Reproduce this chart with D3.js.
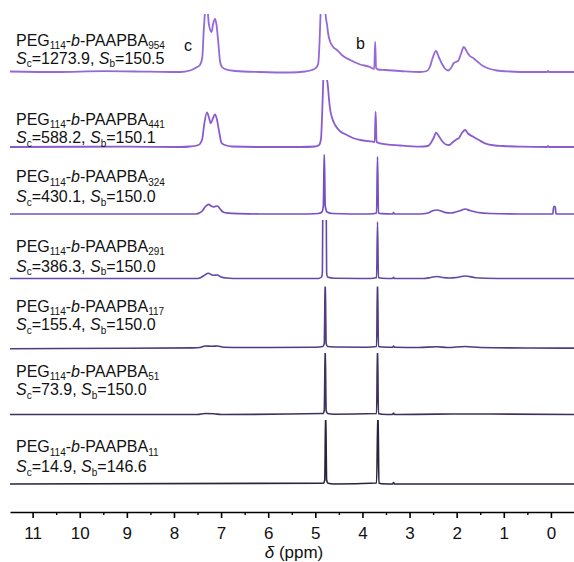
<!DOCTYPE html>
<html><head><meta charset="utf-8">
<script src="https://cdn.jsdelivr.net/npm/d3@7"></script>
<style>body{margin:0;background:#fff}svg{display:block}</style>
</head><body>
<svg id="chart" width="574" height="562"></svg>
<script>
// ---------------- data ----------------
const tickValues = [11, 10, 9, 8, 7, 6, 5, 4, 3, 2, 1, 0];
const minorTickValues = [10.5, 9.5, 8.5, 7.5, 6.5, 5.5, 4.5, 3.5, 2.5, 1.5, 0.5];
const dpValues = ["954", "441", "324", "291", "117", "51", "11"];
const scValues = ["1273.9", "588.2", "430.1", "386.3", "155.4", "73.9", "14.9"];
const sbValues = ["150.5", "150.1", "150.0", "150.0", "150.0", "150.0", "146.6"];
const peakLabels = ["c", "b"];
const peakLabelPpm = [7.70, 4.04];

// spectra: [ppm, intensity (a.u.)]
const spec954 = [[11.48,0.5],[10.5,0],[9.5,0.8],[8.5,0.3],[7.87,0],[7.66,1.5],[7.55,4],[7.45,7],[7.40,14],[7.37,40],[7.34,62],[7.32,75],[7.29,65],[7.26,48],[7.20,40],[7.17,48],[7.13,53],[7.10,48],[7.06,30],[7.02,10],[6.98,5],[6.89,2.5],[6.70,1],[6.17,0],[5.54,-0.5],[5.22,0.5],[5.07,2],[4.99,4],[4.94,8],[4.91,30],[4.88,70],[4.84,90],[4.80,70],[4.78,56],[4.75,47],[4.73,39],[4.69,31],[4.62,25],[4.54,22],[4.41,16],[4.26,12],[4.05,7.5],[3.84,5],[3.78,3.5],[3.75,3],[3.73,30.3],[3.71,4],[3.67,2.5],[3.52,2],[3.20,1],[2.78,0],[2.63,1],[2.57,5],[2.51,14],[2.44,21],[2.38,15],[2.31,8],[2.25,3.5],[2.18,1.5],[2.12,4],[2.06,9],[2.02,10],[1.97,11],[1.91,18],[1.85,25],[1.78,20],[1.72,16],[1.65,14],[1.55,10],[1.44,6],[1.29,3],[1.15,1.5],[0.87,0.5],[0.45,0],[0.08,0],[0.06,1],[0.04,0],[-0.49,0]];
const spec441 = [[11.48,0],[9.0,0.3],[7.87,0],[7.66,0.5],[7.51,1.5],[7.45,3],[7.40,8],[7.36,22],[7.30,34.7],[7.26,30],[7.22,23.7],[7.17,29],[7.13,32.7],[7.09,28],[7.04,15],[6.99,4],[6.92,2],[6.77,0.5],[6.17,0],[5.32,0],[5.01,0.5],[4.92,2],[4.88,8],[4.85,40],[4.82,80],[4.79,90],[4.76,70],[4.74,64],[4.71,48],[4.69,39],[4.65,30],[4.58,22],[4.48,16],[4.33,12],[4.20,9],[4.05,7],[3.78,5.3],[3.74,5],[3.72,35.3],[3.70,5],[3.63,3.7],[3.20,1.5],[2.78,0.3],[2.61,1],[2.55,4],[2.48,10],[2.44,14.3],[2.38,11],[2.31,6],[2.23,2.5],[2.16,2],[2.08,5],[2.00,7.7],[1.95,9],[1.89,14],[1.82,17],[1.76,13.5],[1.65,10.3],[1.53,7],[1.40,3.7],[1.19,1.5],[1.02,1],[0.65,0.3],[0.08,0],[0.06,1],[0.04,0],[-0.49,0]];
const spec324 = [[11.48,0],[7.53,0],[7.49,0.5],[7.40,3],[7.34,7],[7.27,9.7],[7.21,8],[7.16,7],[7.13,7.5],[7.08,8],[7.02,5],[6.96,2],[6.85,0.8],[6.60,0.3],[6.17,0],[5.32,0],[4.94,0.5],[4.86,2],[4.83,8],[4.81,62],[4.79,8],[4.75,2],[4.64,0.5],[3.84,0],[3.70,1],[3.68,57.3],[3.66,1],[3.59,0.3],[3.36,0],[3.34,1.5],[3.32,0],[2.78,0],[2.61,1],[2.52,3],[2.42,4],[2.33,3],[2.23,1.3],[2.12,1],[2.02,2],[1.91,3.5],[1.82,5],[1.72,3.5],[1.55,1.5],[1.29,0.5],[0.66,0],[-0.04,0],[-0.06,7.5],[-0.09,7.5],[-0.11,0],[-0.49,0]];
const spec291 = [[11.48,0],[7.49,0],[7.45,0.5],[7.36,3],[7.27,5.2],[7.19,3.5],[7.15,3.3],[7.08,3.5],[7.00,1.5],[6.89,0.5],[6.60,0],[4.94,0],[4.87,1.5],[4.85,6],[4.84,80],[4.80,110],[4.77,80],[4.76,6],[4.74,1.5],[4.60,0.3],[3.84,0],[3.70,1],[3.68,56.8],[3.66,1],[3.59,0.3],[3.36,0],[3.34,1.2],[3.32,0],[2.70,0],[2.55,1],[2.42,2],[2.30,1],[2.15,0.5],[2.00,1],[1.82,2.5],[1.60,0.8],[1.40,0.3],[0.80,0],[-0.49,0]];
const spec117 = [[11.48,-1.2],[9.0,-0.8],[7.60,-0.4],[7.45,0],[7.34,1.5],[7.20,1.2],[7.08,1.5],[6.95,0.3],[6.50,0],[5.00,0.3],[4.84,1],[4.81,4],[4.79,70],[4.77,4],[4.74,1],[4.60,0.5],[3.90,0.3],[3.70,1],[3.68,70],[3.66,1],[3.59,0.5],[3.36,0.3],[3.34,1.5],[3.32,0.3],[2.80,0],[2.42,0.8],[2.20,0],[1.82,1],[1.50,0],[0.50,-0.5],[-0.49,-0.6]];
const spec51 = [[11.48,0],[7.50,0],[7.34,1],[7.15,0.8],[7.00,0],[4.84,1],[4.81,4],[4.79,70],[4.77,4],[4.74,1],[4.60,0.3],[3.70,1],[3.68,70],[3.66,1],[3.59,0.3],[3.36,0],[3.34,1.5],[3.32,0],[2.42,0.4],[1.82,0.5],[-0.49,0]];
const spec11 = [[11.48,0],[4.83,0.8],[4.80,4],[4.78,75],[4.76,4],[4.73,0.8],[4.60,0],[3.70,1],[3.67,75],[3.65,1],[3.59,0.3],[3.36,0],[3.34,1.5],[3.32,0],[-0.49,0]];
const spectra = [spec954, spec441, spec324, spec291, spec117, spec51, spec11];

// ---------------- layout / style ----------------
const W = 574, H = 562;
const FONT = "Arial, 'Liberation Sans', Helvetica, sans-serif";
const baselines = [72, 147, 214, 278.5, 347.5, 414.5, 484];
const clipTops = [14, 80, 154.5, 220, 286.5, 353, 420];
const labelY1 = [45.5, 124.5, 182, 251.5, 311.5, 376.5, 452];
const labelY2 = [63.5, 143, 202, 271.5, 330, 395, 472];
const colors = ["#9568d8", "#8a5ccf", "#7650c0", "#6448a6", "#4f3b7e", "#3e305f", "#2b2440"];
const widths = [1.8, 1.8, 1.7, 1.6, 1.6, 1.6, 1.6];
const SUB = 10, SUBDY = 3.5;

const svg = d3.select("#chart");
const x = d3.scaleLinear().domain([11.48, -0.49]).range([10, 574]);

const line = d3.line().curve(d3.curveMonotoneX);

spectra.forEach((spec, i) => {
  const y = d3.scaleLinear().domain([0, 60]).range([baselines[i], baselines[i] - 60]);
  const cid = "clip" + i;
  svg.append("clipPath").attr("id", cid)
    .append("rect").attr("x", 0).attr("y", clipTops[i]).attr("width", W).attr("height", baselines[i] + 20 - clipTops[i]);
  svg.append("path")
    .attr("clip-path", `url(#${cid})`)
    .attr("d", line.x(d => x(d[0])).y(d => y(d[1]))(spec))
    .attr("fill", "none")
    .attr("stroke", colors[i])
    .attr("stroke-width", widths[i])
    .attr("stroke-linejoin", "round");

  const t1 = svg.append("text").attr("x", 16).attr("y", labelY1[i])
    .attr("font-family", FONT).attr("font-size", 16).attr("fill", "#111");
  t1.append("tspan").text("PEG");
  t1.append("tspan").attr("font-size", SUB).attr("dy", SUBDY).text("114");
  t1.append("tspan").attr("dy", -SUBDY).text("-");
  t1.append("tspan").attr("font-style", "italic").text("b");
  t1.append("tspan").text("-PAAPBA");
  t1.append("tspan").attr("font-size", SUB).attr("dy", SUBDY).text(dpValues[i]);

  const t2 = svg.append("text").attr("x", 16).attr("y", labelY2[i])
    .attr("font-family", FONT).attr("font-size", 16).attr("fill", "#111");
  t2.append("tspan").attr("font-style", "italic").text("S");
  t2.append("tspan").attr("font-size", SUB).attr("dy", SUBDY).text("c");
  t2.append("tspan").attr("dy", -SUBDY).text("=" + scValues[i] + ", ");
  t2.append("tspan").attr("font-style", "italic").text("S");
  t2.append("tspan").attr("font-size", SUB).attr("dy", SUBDY).text("b");
  t2.append("tspan").attr("dy", -SUBDY).text("=" + sbValues[i]);
});

// peak labels
const peakLabelY = [51, 48.5];
peakLabels.forEach((t, i) => {
  svg.append("text").attr("x", x(peakLabelPpm[i])).attr("y", peakLabelY[i])
    .attr("text-anchor", "middle").attr("font-family", FONT).attr("font-size", 16)
    .attr("fill", "#111").text(t);
});

// axis
const axisY = 512;
const gAxis = svg.append("g").attr("transform", `translate(0,${axisY})`)
  .call(d3.axisBottom(x).tickValues(tickValues).tickSize(6).tickSizeOuter(0).tickPadding(9).tickFormat(d3.format("d")));
gAxis.select(".domain").attr("stroke", "#000").attr("stroke-width", 1.6);
gAxis.selectAll(".tick line").attr("stroke", "#000").attr("stroke-width", 1.6);
gAxis.selectAll(".tick text").attr("font-family", FONT).attr("font-size", 17).attr("fill", "#111");

const gMinor = svg.append("g").attr("transform", `translate(0,${axisY})`)
  .call(d3.axisBottom(x).tickValues(minorTickValues).tickSize(3).tickSizeOuter(0).tickFormat(""));
gMinor.select(".domain").remove();
gMinor.selectAll(".tick line").attr("stroke", "#000").attr("stroke-width", 1.4);

const xt = svg.append("text").attr("x", 294).attr("y", 558).attr("text-anchor", "middle")
  .attr("font-family", FONT).attr("font-size", 17).attr("fill", "#111");
xt.append("tspan").attr("font-style", "italic").text("δ");
xt.append("tspan").text(" (ppm)");
</script>
</body></html>
